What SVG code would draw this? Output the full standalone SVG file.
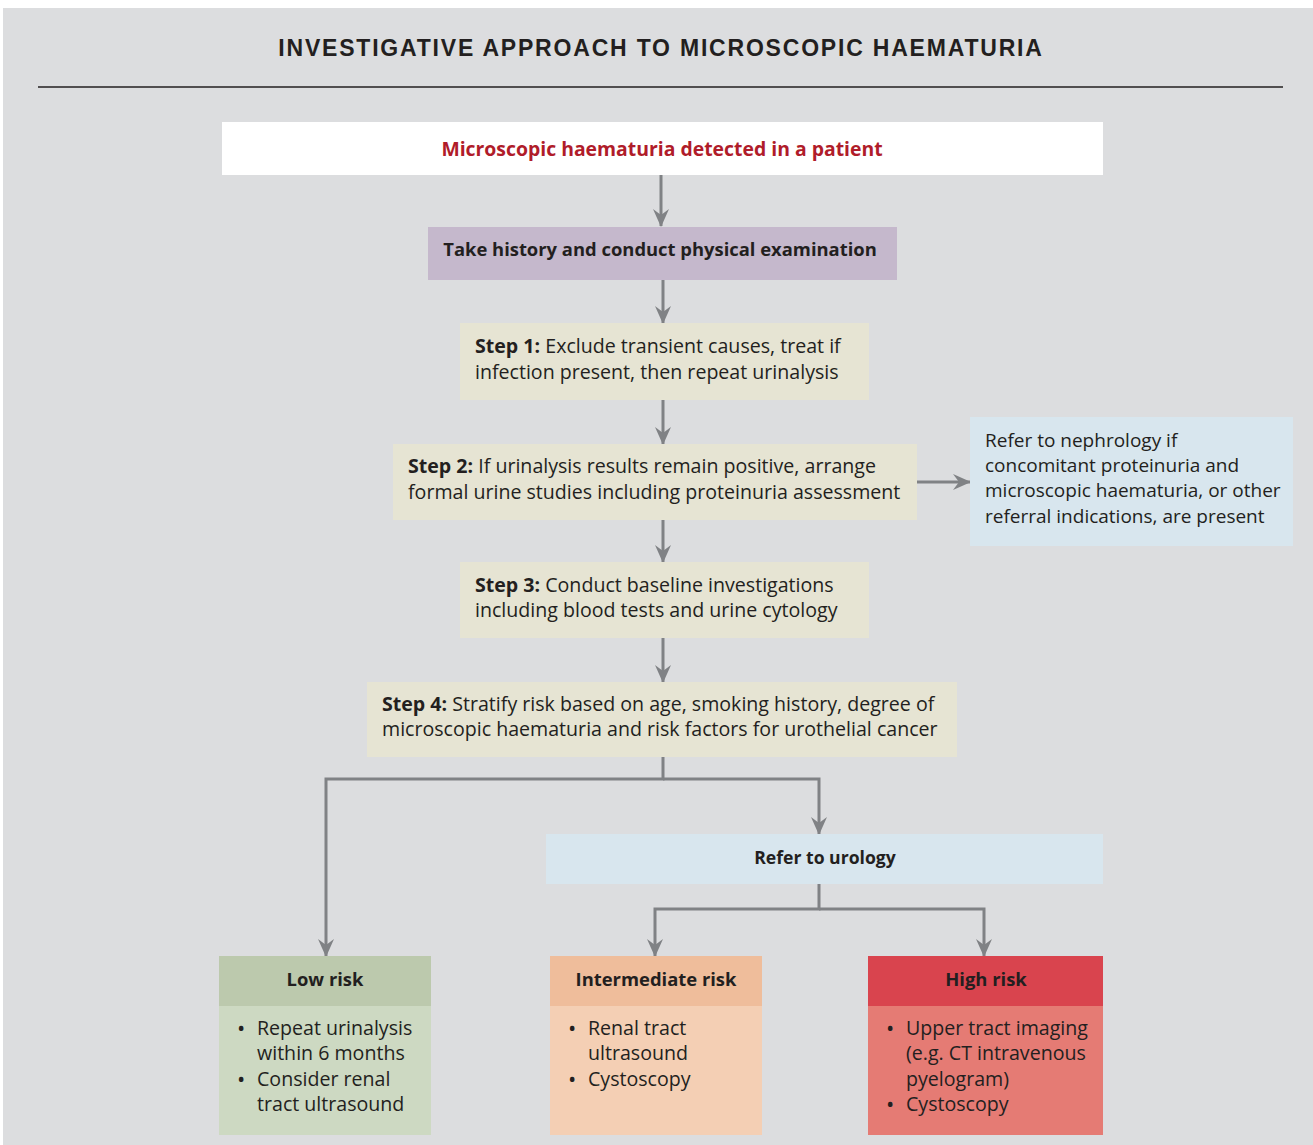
<svg xmlns="http://www.w3.org/2000/svg" width="1313" height="1145" viewBox="0 0 1313 1145">
<defs>
<style>
text{font-family:"Open Sans","Liberation Sans",Arial,sans-serif;fill:#231f20;font-size:19.6px}
.b{font-weight:bold}
.h{font-weight:bold;font-size:18.4px}
.c{text-anchor:middle}
.n{font-size:19px}
.bul{font-size:22px}
.ttl{font-family:"Liberation Sans",Arial,sans-serif;font-size:23px;font-weight:bold;letter-spacing:1.8px}
.red{fill:#b01c2a;font-size:19.4px}
.con{fill:none;stroke:#808285;stroke-width:3}
</style>
<marker id="ah" markerWidth="18" markerHeight="16" viewBox="0 0 18 16" refX="17" refY="8" orient="auto" markerUnits="userSpaceOnUse">
<path d="M0,0 L6,8 L0,16 L18,8 Z" fill="#808285"/>
</marker>
</defs>
<rect x="0" y="0" width="1313" height="1145" fill="#ffffff"/>
<rect x="3" y="8" width="1310" height="1137" fill="#dcdddf"/>
<g id="title">
<text class="ttl c" x="661" y="56">INVESTIGATIVE APPROACH TO MICROSCOPIC HAEMATURIA</text>
<line x1="38" y1="87" x2="1283" y2="87" stroke="#231f20" stroke-width="1.5"/>
</g>
<g id="connectors">
<line class="con" x1="661" y1="175" x2="661" y2="226" marker-end="url(#ah)"/>
<line class="con" x1="663" y1="280" x2="663" y2="323" marker-end="url(#ah)"/>
<line class="con" x1="663" y1="400" x2="663" y2="444" marker-end="url(#ah)"/>
<line class="con" x1="917" y1="482" x2="970" y2="482" marker-end="url(#ah)"/>
<line class="con" x1="663" y1="520" x2="663" y2="562" marker-end="url(#ah)"/>
<line class="con" x1="663" y1="638" x2="663" y2="682" marker-end="url(#ah)"/>
<polyline class="con" points="663,757 663,779 326,779 326,956" marker-end="url(#ah)"/>
<polyline class="con" points="663,779 819,779 819,834" marker-end="url(#ah)"/>
<polyline class="con" points="819,884 819,909 655,909 655,956" marker-end="url(#ah)"/>
<polyline class="con" points="819,909 984,909 984,956" marker-end="url(#ah)"/>
</g>
<g id="start">
<rect x="222" y="122" width="881" height="53" fill="#ffffff"/>
<text class="b c red" x="662" y="156">Microscopic haematuria detected in a patient</text>
</g>
<g id="history">
<rect x="428" y="227" width="469" height="53" fill="#c5b8cc"/>
<text class="h c" x="660" y="256">Take history and conduct physical examination</text>
</g>
<g id="step1">
<rect x="460" y="323" width="409" height="77" fill="#e6e4d3"/>
<text x="475" y="353"><tspan class="b">Step 1:</tspan> Exclude transient causes, treat if</text>
<text x="475" y="379">infection present, then repeat urinalysis</text>
</g>
<g id="step2">
<rect x="393" y="444" width="524" height="76" fill="#e6e4d3"/>
<text x="408" y="473"><tspan class="b">Step 2:</tspan> If urinalysis results remain positive, arrange</text>
<text x="408" y="499">formal urine studies including proteinuria assessment</text>
</g>
<g id="nephrology">
<rect x="970" y="417" width="323" height="129" fill="#d8e6ee"/>
<text class="n" x="985" y="447">Refer to nephrology if</text>
<text class="n" x="985" y="472">concomitant proteinuria and</text>
<text class="n" x="985" y="497">microscopic haematuria, or other</text>
<text class="n" x="985" y="523">referral indications, are present</text>
</g>
<g id="step3">
<rect x="460" y="562" width="409" height="76" fill="#e6e4d3"/>
<text x="475" y="592"><tspan class="b">Step 3:</tspan> Conduct baseline investigations</text>
<text x="475" y="617">including blood tests and urine cytology</text>
</g>
<g id="step4">
<rect x="367" y="682" width="590" height="75" fill="#e6e4d3"/>
<text x="382" y="711"><tspan class="b">Step 4:</tspan> Stratify risk based on age, smoking history, degree of</text>
<text x="382" y="736">microscopic haematuria and risk factors for urothelial cancer</text>
</g>
<g id="urology">
<rect x="546" y="834" width="557" height="50" fill="#d8e6ee"/>
<text class="h c" x="825" y="864" style="font-size:17.6px">Refer to urology</text>
</g>
<g id="low">
<rect x="219" y="956" width="212" height="50" fill="#bcc9ad"/>
<rect x="219" y="1006" width="212" height="129" fill="#cdd9c2"/>
<text class="h c" x="325" y="986">Low risk</text>
<text class="bul" x="237" y="1036">•</text><text x="257" y="1035">Repeat urinalysis</text>
<text x="257" y="1060">within 6 months</text>
<text class="bul" x="237" y="1087">•</text><text x="257" y="1086">Consider renal</text>
<text x="257" y="1111">tract ultrasound</text>
</g>
<g id="intermediate">
<rect x="550" y="956" width="212" height="50" fill="#efbd9b"/>
<rect x="550" y="1006" width="212" height="129" fill="#f4cfb4"/>
<text class="h c" x="656" y="986">Intermediate risk</text>
<text class="bul" x="568" y="1036">•</text><text x="588" y="1035">Renal tract</text>
<text x="588" y="1060">ultrasound</text>
<text class="bul" x="568" y="1087">•</text><text x="588" y="1086">Cystoscopy</text>
</g>
<g id="high">
<rect x="868" y="956" width="235" height="50" fill="#d9444e"/>
<rect x="868" y="1006" width="235" height="129" fill="#e57b74"/>
<text class="h c" x="986" y="986">High risk</text>
<text class="bul" x="886" y="1036">•</text><text x="906" y="1035">Upper tract imaging</text>
<text x="906" y="1060">(e.g. CT intravenous</text>
<text x="906" y="1086">pyelogram)</text>
<text class="bul" x="886" y="1112">•</text><text x="906" y="1111">Cystoscopy</text>
</g>
</svg>
